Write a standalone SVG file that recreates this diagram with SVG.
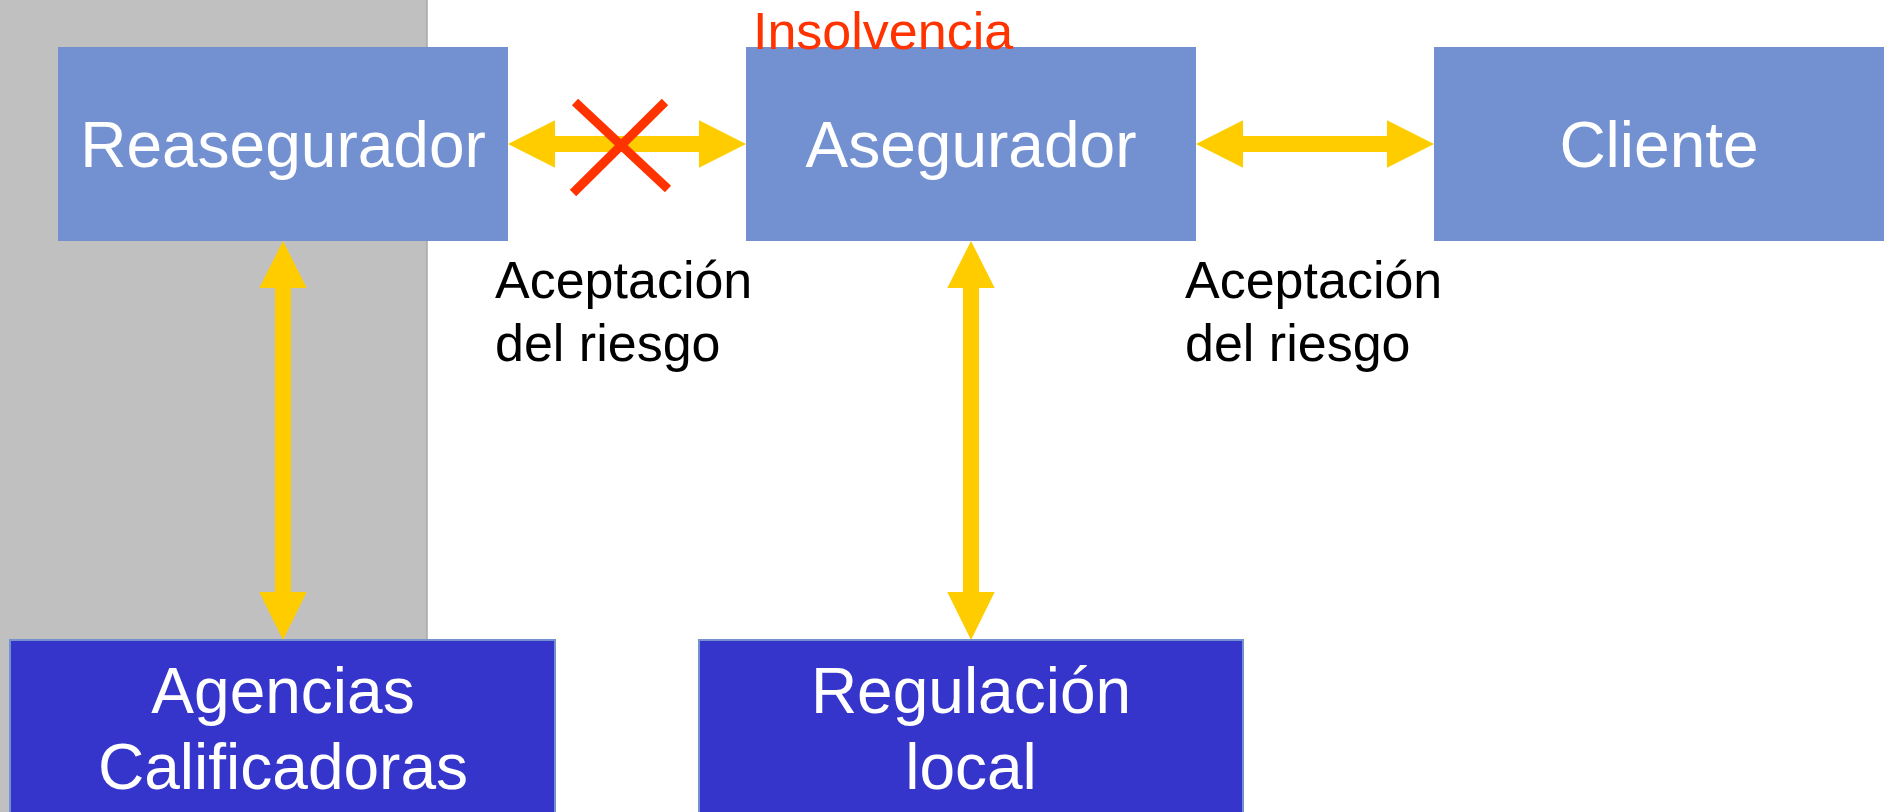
<svg xmlns="http://www.w3.org/2000/svg" width="1890" height="812" viewBox="0 0 1890 812">
<style>
.top{fill:#7391D1;}
.bot{fill:#3535CC;stroke:#7391D1;stroke-width:2;}
.nt{font-family:"Liberation Sans",Arial,sans-serif;font-size:64px;fill:#FFFFFF;text-anchor:middle;}
.lbl{font-family:"Liberation Sans",Arial,sans-serif;font-size:52px;fill:#000000;}
.arr{fill:#FFCC00;}
.x{stroke:#FF3300;stroke-width:9;fill:none;}
</style>
<rect x="0" y="0" width="1890" height="812" fill="#FFFFFF"/>
<rect x="0" y="0" width="427" height="812" fill="#C0C0C0"/>
<line x1="427" y1="0" x2="427" y2="812" stroke="#A8A8A8" stroke-width="1.5"/>
<g id="connectors">
<polygon class="arr" points="508,144 555,120.2 555,136 699,136 699,120.2 746,144 699,167.8 699,152 555,152 555,167.8"/>
<polygon class="arr" points="1196,144 1243,120.2 1243,136 1387,136 1387,120.2 1434,144 1387,167.8 1387,152 1243,152 1243,167.8"/>
<polygon class="arr" points="283,241 306.7,288 291,288 291,592 306.7,592 283,640 259.3,592 275,592 275,288 259.3,288"/>
<polygon class="arr" points="971,241 994.7,288 979,288 979,592 994.7,592 971,640 947.3,592 963,592 963,288 947.3,288"/>
<g id="cross">
<line class="x" x1="575" y1="102" x2="668" y2="189"/>
<line class="x" x1="665" y1="102" x2="573" y2="193"/>
</g>
</g>
<g id="reasegurador">
<rect class="top" x="58" y="47" width="450" height="194"/>
<text class="nt" x="283" y="167">Reasegurador</text>
</g>
<g id="asegurador">
<rect class="top" x="746" y="47" width="450" height="194"/>
<text class="nt" x="971" y="167">Asegurador</text>
</g>
<g id="cliente">
<rect class="top" x="1434" y="47" width="450" height="194"/>
<text class="nt" x="1659" y="167">Cliente</text>
</g>
<g id="agencias">
<rect class="bot" x="10" y="640" width="545" height="190"/>
<text class="nt" x="283" y="713">Agencias</text>
<text class="nt" x="283" y="789">Calificadoras</text>
</g>
<g id="regulacion">
<rect class="bot" x="699" y="640" width="544" height="190"/>
<text class="nt" x="971" y="713">Regulación</text>
<text class="nt" x="971" y="789">local</text>
</g>
<g id="labels">
<text x="753" y="49" font-family="'Liberation Sans',Arial,sans-serif" font-size="52" fill="#FF3300">Insolvencia</text>
<text class="lbl" x="495" y="298">Aceptación</text>
<text class="lbl" x="495" y="361">del riesgo</text>
<text class="lbl" x="1185" y="298">Aceptación</text>
<text class="lbl" x="1185" y="361">del riesgo</text>
</g>
</svg>
